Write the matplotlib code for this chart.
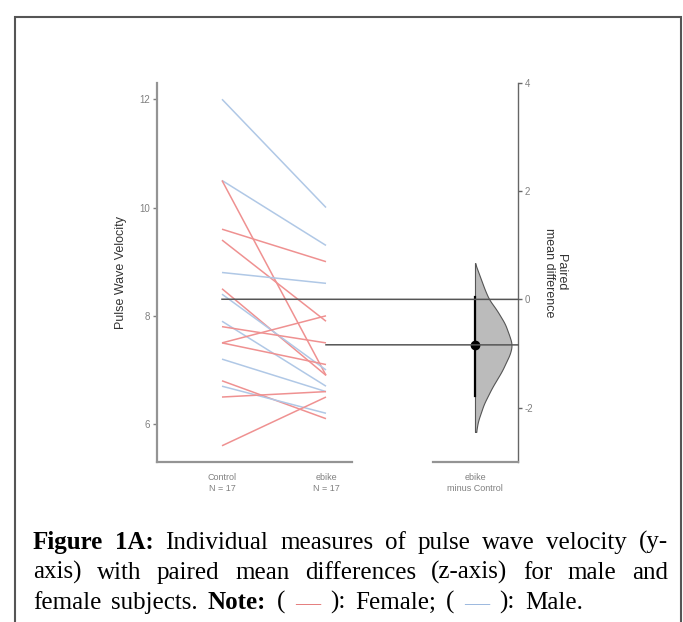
import numpy as np
import matplotlib
matplotlib.use("Agg")
import matplotlib.pyplot as plt
from matplotlib.lines import Line2D
from matplotlib.patches import Rectangle

plt.rcParams['font.family'] = ['Liberation Sans', 'DejaVu Sans']
plt.rcParams['axes.unicode_minus'] = False

# paired measurements (pulse wave velocity)
groups = ['Control', 'ebike']
n_label = ['N = 17', 'N = 17']
sex = ['M', 'M', 'F', 'F', 'F', 'M', 'F', 'M', 'M', 'F', 'F', 'F', 'M', 'F', 'M', 'F', 'F']
control = [12.0, 10.5, 10.5, 9.6, 9.4, 8.8, 8.5, 8.4, 7.9, 7.8, 7.5, 7.5, 7.2, 6.8, 6.7, 6.5, 5.6]
ebike = [10.0, 9.3, 6.9, 9.0, 7.9, 8.6, 6.9, 7.0, 6.7, 7.5, 8.0, 7.1, 6.6, 6.1, 6.2, 6.6, 6.5]

# bootstrap distribution of paired mean difference
dist_y = [0.67, 0.41, 0.17, 0.0, -0.2, -0.45, -0.71, -0.84, -1.0, -1.32, -1.63, -1.93, -2.25, -2.45]
dist_w = [0.0, 0.14, 0.27, 0.38, 0.59, 0.81, 0.95, 1.0, 0.95, 0.73, 0.46, 0.24, 0.08, 0.03]
ci = [-1.79, 0.04]

left_ticks = [6, 8, 10, 12]
right_ticks = [-2, 0, 2, 4]

colors = {'F': '#EF9191', 'M': '#B0C8E6'}
tick_grey = '#808080'

W, H = 683, 622
fig = plt.figure(figsize=(W / 100, H / 100), dpi=100)


def rect(x0, x1, ytop, ybot):
    return [x0 / W, 1 - ybot / H, (x1 - x0) / W, (ybot - ytop) / H]


ax = fig.add_axes(rect(157, 352, 83, 462))
ax2 = fig.add_axes(rect(433, 518, 83, 462))

ctrl_mean = np.mean(control)
ebk_mean = np.mean(ebike)
diff = ebk_mean - ctrl_mean

for c, e, s in zip(control, ebike, sex):
    ax.plot([0, 1], [c, e], color=colors[s], lw=1.1, solid_capstyle='butt')

ax.set_xlim(-0.625, 1.25)
ax.set_ylim(5.3, 12.3)
ax.set_yticks(left_ticks)
ax.set_xticks([0, 1])
ax.set_xticklabels([g + '\n' + n for g, n in zip(groups, n_label)])
ax.tick_params(axis='x', length=0, pad=8, labelsize=6.5, labelcolor=tick_grey)
ax.tick_params(axis='y', length=3, width=1, color='#808080', labelsize=7, labelcolor=tick_grey, pad=2)
for s in ['top', 'right']:
    ax.spines[s].set_visible(False)
for s in ['left', 'bottom']:
    ax.spines[s].set_color('#949494')
    ax.spines[s].set_linewidth(1.6)
ax.set_ylabel('Pulse Wave Velocity', fontsize=9, color='#333333', labelpad=9)

# effect size axes
ax2.set_ylim(5.3 - ctrl_mean, 12.3 - ctrl_mean)
ax2.set_xlim(0, 1)
xe = 0.494
yy = np.linspace(dist_y[-1], dist_y[0], 300)
ww = np.interp(yy, dist_y[::-1], dist_w[::-1])
k = np.ones(15) / 15
ww = np.convolve(np.pad(ww, 7, mode='edge'), k, mode='valid')
ax2.fill_betweenx(yy, xe, xe + 0.435 * ww, facecolor='#BBBBBB', edgecolor='#555555', lw=0.8)
ax2.plot([xe, xe], ci, color='black', lw=1.6)
ax2.plot([xe], [diff], 'o', color='black', ms=6)

ax2.yaxis.tick_right()
ax2.yaxis.set_label_position('right')
ax2.set_yticks(right_ticks)
ax2.set_xticks([xe])
ax2.set_xticklabels(['ebike\nminus Control'])
ax2.tick_params(axis='x', length=0, pad=8, labelsize=6.5, labelcolor=tick_grey)
ax2.tick_params(axis='y', length=3, width=1, color='#666666', labelsize=7, labelcolor=tick_grey, pad=2)
for s in ['top', 'left']:
    ax2.spines[s].set_visible(False)
ax2.spines['right'].set_color('#666666')
ax2.spines['right'].set_linewidth(1.0)
ax2.spines['bottom'].set_color('#949494')
ax2.spines['bottom'].set_linewidth(1.6)
ax2.set_ylabel('Paired\nmean difference', fontsize=9, color='#333333', rotation=270, labelpad=24, linespacing=1.0)

# mean reference lines spanning both axes
to_fig = fig.transFigure.inverted()
for x_start, ym in [(0, ctrl_mean), (1, ebk_mean)]:
    p0 = to_fig.transform(ax.transData.transform((x_start, ym)))
    p1 = to_fig.transform(ax2.transData.transform((1, ym - ctrl_mean)))
    fig.add_artist(Line2D([p0[0], p1[0]], [p0[1], p1[1]], color='#555555', lw=1.1, transform=fig.transFigure))

# outer frame
fig.add_artist(Rectangle((14.5 / W, -0.02), (681 - 14.5) / W, 1.02 - 16.5 / H, fill=False,
                         edgecolor='#555555', lw=1.5, transform=fig.transFigure))

# justified caption
cap_font = ['Liberation Serif', 'DejaVu Serif']
cap_size = 18
lines = [
    [('Figure', 'bold', 'k'), ('1A:', 'bold', 'k'), ('Individual', 'normal', 'k'), ('measures', 'normal', 'k'),
     ('of', 'normal', 'k'), ('pulse', 'normal', 'k'), ('wave', 'normal', 'k'), ('velocity', 'normal', 'k'),
     ('(y-', 'normal', 'k')],
    [('axis)', 'normal', 'k'), ('with', 'normal', 'k'), ('paired', 'normal', 'k'), ('mean', 'normal', 'k'),
     ('differences', 'normal', 'k'), ('(z-axis)', 'normal', 'k'), ('for', 'normal', 'k'), ('male', 'normal', 'k'),
     ('and', 'normal', 'k')],
    [('female', 'normal', 'k'), ('subjects.', 'normal', 'k'), ('Note:', 'bold', 'k'), ('(', 'normal', 'k'),
     ('\u2014', 'normal', '#E57F7F'), ('):', 'normal', 'k'), ('Female;', 'normal', 'k'), ('(', 'normal', 'k'),
     ('\u2014', 'normal', '#9DB9DF'), ('):', 'normal', 'k'), ('Male.', 'normal', 'k')],
]
line_y = [549, 579, 609]
x0, x1 = 33, 668
renderer = fig.canvas.get_renderer()
for i, (toks, yl) in enumerate(zip(lines, line_y)):
    arts = [fig.text(0, 1 - yl / H, t, fontsize=cap_size, fontweight=wt, color=col, family=cap_font,
                     va='baseline', ha='left') for t, wt, col in toks]
    widths = [a.get_window_extent(renderer).width for a in arts]
    if i < len(lines) - 1:
        gap = (x1 - x0 - sum(widths)) / (len(arts) - 1)
    else:
        gap = 0.4 * cap_size * 100 / 72
    x = x0
    for a, w in zip(arts, widths):
        a.set_x(x / W)
        x += w + gap

fig.savefig('out.png', dpi=100)
